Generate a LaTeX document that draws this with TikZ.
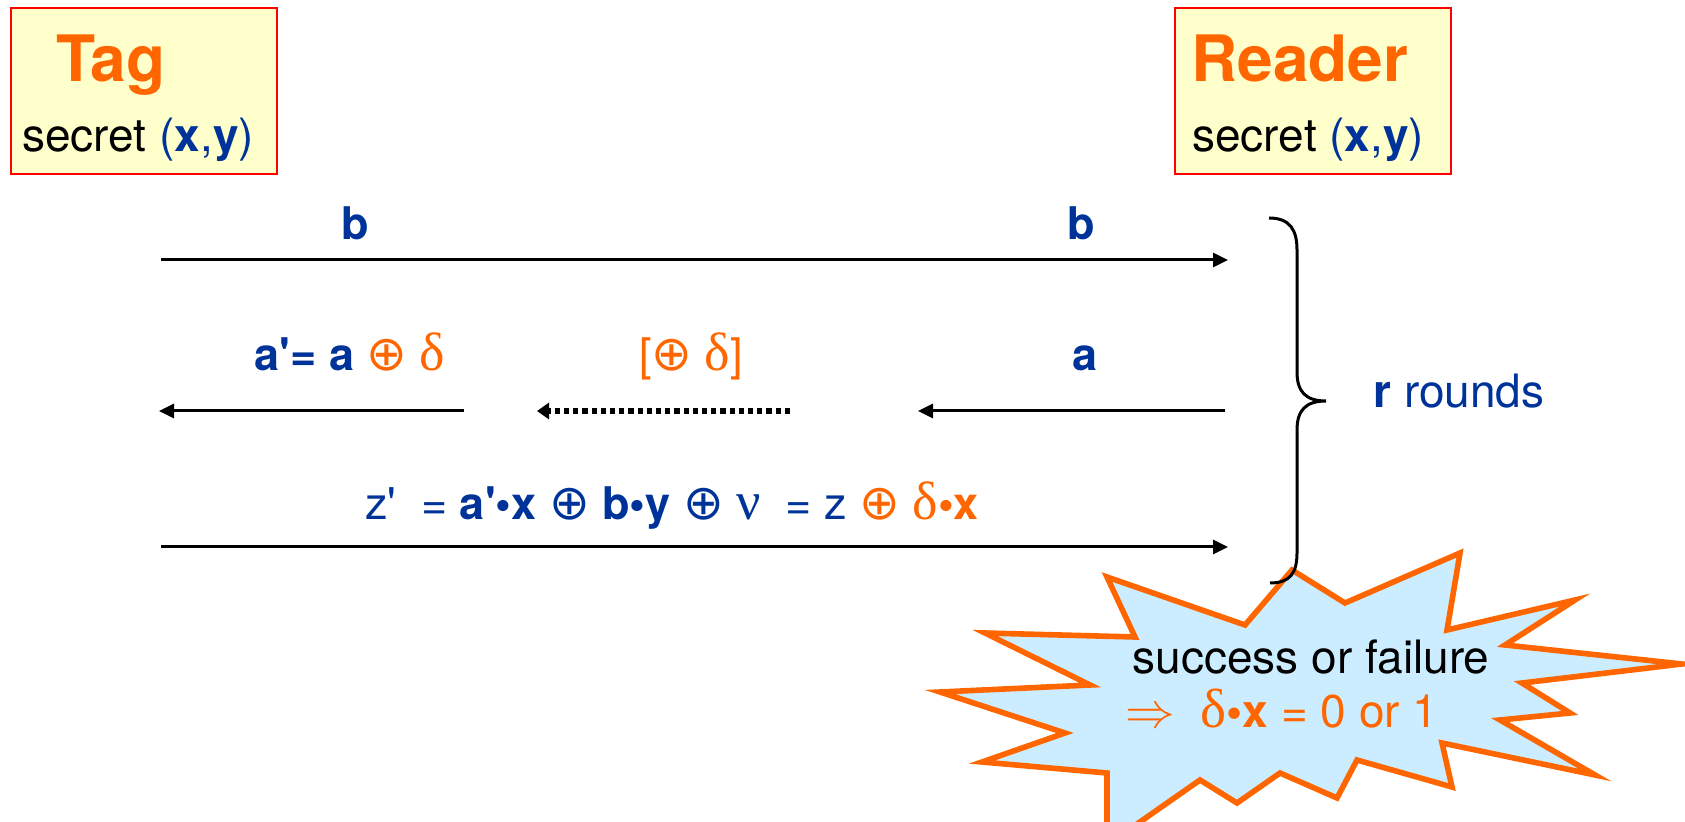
\documentclass[tikz,border=0pt]{standalone}
\usepackage{fontspec}
\setmainfont{TeX Gyre Heros}
\newfontfamily\grk{Liberation Serif}[Scale=1.2]
\newfontfamily\symf{DejaVu Sans}[Scale=1.08]
\usetikzlibrary{arrows.meta}
\definecolor{blu}{RGB}{0,51,153}
\definecolor{org}{RGB}{255,102,0}
\definecolor{ylw}{RGB}{255,255,204}
\definecolor{skyb}{RGB}{204,236,255}
\newcommand{\apos}{\textquotesingle}
\newcommand{\xo}{{\symf ⊕}}
\tikzset{
  party/.style={draw=red, fill=ylw, line width=1pt, minimum width=133pt, minimum height=83pt, inner sep=0pt},
  title/.style={inner sep=0pt, anchor=base west, text=org, font=\fontsize{32}{36}\selectfont\bfseries},
  body/.style={inner sep=0pt, font=\fontsize{23}{27}\selectfont},
  lbl/.style={inner sep=0pt, anchor=base, font=\fontsize{22.5}{26}\selectfont},
  arr/.style={line width=1.5pt, -{Triangle[length=7.5pt,width=7pt]}},
  dotarr/.style={line width=2.6pt, dash pattern=on 2.6pt off 2pt, -{Triangle[length=6pt,width=8pt]}},
  burst/.style={draw=org, fill=skyb, line width=2.8pt, line join=miter}
}
\begin{document}
\begin{tikzpicture}[x=0.5pt,y=-0.5pt]
\useasboundingbox (0,0) rectangle (1685,822);
\clip (0,0) rectangle (1685,822);

% parties
\node[party] (tagbox) at (144,91) {};
\node[title] (tagt) at (56,82) {Tag};
\node[body, anchor=base west] (tags) at (22,152) {secret {\color{blu}(\textbf{x},\textbf{y})}};

\node[party, minimum width=138pt] (rdbox) at (1313,91) {};
\node[title] (rdt) at (1191,82) {Reader};
\node[body, anchor=base west] (rds) at (1192,152) {secret {\color{blu}(\textbf{x},\textbf{y})}};

% row 1
\coordinate (r1s) at (161,260);
\coordinate (r1e) at (1228,260);
\draw[arr] (r1s) -- (r1e);
\node[lbl, text=blu, font=\fontsize{22.5}{26}\selectfont\bfseries] (b1) at (355,240) {b};
\node[lbl, text=blu, font=\fontsize{22.5}{26}\selectfont\bfseries] (b2) at (1081,240) {b};

% row 2
\coordinate (r2a) at (464,411);
\coordinate (r2b) at (159,411);
\coordinate (r2c) at (790,411);
\coordinate (r2d) at (537,411);
\coordinate (r2e) at (1225,411);
\coordinate (r2f) at (918,411);
\draw[arr] (r2a) -- (r2b);
\draw[dotarr] (r2c) -- (r2d);
\draw[arr] (r2e) -- (r2f);
\node[lbl] (aprime) at (350,371) {{\color{blu}\bfseries a\apos= a} {\color{org}\xo\ {\grk δ}}};
\node[lbl, text=org] (xor) at (691,371) {[\xo\ {\grk δ}]};
\node[lbl, text=blu, font=\fontsize{22.5}{26}\selectfont\bfseries] (a) at (1085,371) {a};

% row 3
\coordinate (r3s) at (161,547);
\coordinate (r3e) at (1228,547);
\draw[arr] (r3s) -- (r3e);
\node[lbl] (zp) at (672,520) {{\color{blu}z\apos\ \ = \textbf{a\apos•x} \xo\ \textbf{b•y} \xo\ {\grk ν}\ \ = z} {\color{org}\xo\ {\grk δ}\textbf{•x}}};

% starburst
\draw[burst] (1107,577) -- (1245,625) -- (1292,570) -- (1345,603) -- (1460,553) -- (1447,630)
  -- (1575,600) -- (1505,645) -- (1682,664) -- (1522,683) -- (1570,713) -- (1500,720)
  -- (1595,775) -- (1442,743) -- (1452,787) -- (1357,760) -- (1337,798) -- (1280,773)
  -- (1237,803) -- (1200,780) -- (1107,845) -- (1107,773) -- (982,762) -- (1065,733)
  -- (940,692) -- (1090,685) -- (985,633) -- (1135,637) -- cycle;
\node[body, anchor=base] (succ) at (1311,673) {success or failure};
\node[body, anchor=base, text=org] (impl) at (1282,727) {$\Rightarrow$\ \ {\grk δ}\textbf{•x} = 0 or 1};

% brace
\draw[line width=1.5pt] (1269,218) .. controls (1290,218) and (1297,230) .. (1297,250)
  -- (1297,372) .. controls (1297,392) and (1306,401) .. (1326,401)
  .. controls (1306,401) and (1297,410) .. (1297,430)
  -- (1297,553) .. controls (1297,573) and (1290,583) .. (1270,583);
\node[body, anchor=base west, text=blu] (rr) at (1373,408) {\textbf{r} rounds};
\end{tikzpicture}
\end{document}
